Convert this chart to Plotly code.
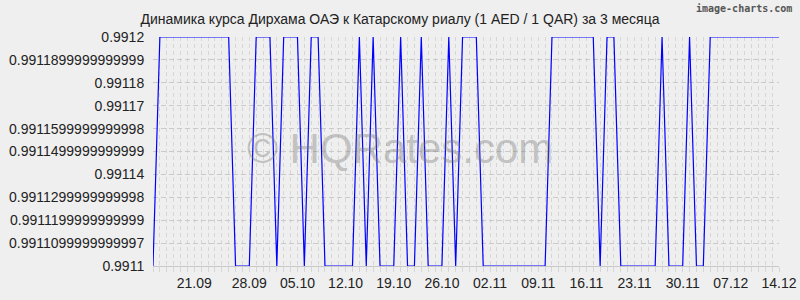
import plotly.graph_objects as go

T = 0.9912
B = 0.9911

# daily AED/QAR rates (index positions along the x axis)
rates = [
    B, T, T, T, T, T, T, T, T, T,
    T, T, B, B, B, T, T, T, B, T,
    T, T, B, T, T, B, B, B, B, B,
    T, B, T, B, B, B, T, B, B, T,
    B, B, B, T, B, T, T, T, B, B,
    B, B, B, B, B, B, B, B, T, T,
    T, T, T, T, T, B, T, T, B, B,
    B, B, B, B, T, B, B, B, T, B,
    B, T, T, T, T, T, T, T, T, T,
    T, T,
]
x_idx = list(range(len(rates)))

x_tick_pos = [6, 14, 21, 28, 35, 42, 49, 56, 63, 70, 77, 84, 91]
x_tick_labels = ["21.09", "28.09", "05.10", "12.10", "19.10", "26.10", "02.11",
                 "09.11", "16.11", "23.11", "30.11", "07.12", "14.12"]

y_tick_vals = [0.9912, 0.99119, 0.99118, 0.99117, 0.99116, 0.99115,
               0.99114, 0.99113, 0.99112, 0.99111, 0.9911]
y_tick_labels = ["0.9912", "0.9911899999999999", "0.99118", "0.99117",
                 "0.9911599999999998", "0.9911499999999999", "0.99114",
                 "0.9911299999999998", "0.9911199999999999", "0.9911099999999997",
                 "0.9911"]

title = "Динамика курса Дирхама ОАЭ к Катарскому риалу (1 AED / 1 QAR) за 3 месяца"

FONT = "Liberation Sans, Arial, sans-serif"
BG = "#efefef"

ML, MR, MT, MB = 153, 21, 37, 34
PW, PH = 800 - ML - MR, 300 - MT - MB

fig = go.Figure()
fig.add_trace(go.Scatter(
    x=x_idx, y=rates, mode="lines",
    line=dict(color="#0000ff", width=1.2),
    cliponaxis=False, hoverinfo="skip",
))

fig.update_layout(
    width=800, height=300,
    margin=dict(l=ML, r=MR, t=MT, b=MB, autoexpand=False),
    paper_bgcolor=BG, plot_bgcolor=BG,
    showlegend=False,
    font=dict(family=FONT, size=14, color="#222222"),
    title=dict(text=title, x=0.5, xanchor="center", y=1 - 19 / 300, yanchor="middle",
               font=dict(family=FONT, size=14, color="#222222")),
    xaxis=dict(
        range=[0, 91], tickmode="array", tickvals=x_tick_pos, ticktext=x_tick_labels,
        automargin=False,
        showgrid=False, zeroline=False,
        ticks="outside", ticklen=4, tickcolor="rgba(0,0,0,0)",
        showline=True, linecolor="#c8c8c8", linewidth=1,
        tickfont=dict(family=FONT, size=14, color="#222222"),
        minor=dict(tickmode="linear", tick0=0, dtick=1, showgrid=True,
                   gridcolor="#d6d6d6", griddash="4px,3px", gridwidth=1,
                   ticks="outside", ticklen=5, tickcolor="#d6d6d6"),
    ),
    yaxis=dict(
        range=[0.9911, 0.9912], tickmode="array", tickvals=y_tick_vals, ticktext=y_tick_labels,
        automargin=False,
        showgrid=True, gridcolor="#cacaca", griddash="5px,3px", gridwidth=1,
        zeroline=False, ticks="outside", ticklen=5, tickcolor="rgba(0,0,0,0)",
        tickfont=dict(family=FONT, size=14, color="#222222"),
    ),
    annotations=[
        dict(text="© HQRates.com", x=(400 - ML) / PW, y=(300 - MB - 148) / PH,
             xref="paper", yref="paper",
             xanchor="center", yanchor="middle", showarrow=False,
             font=dict(family=FONT, size=42, color="rgba(120,120,120,0.4)")),
        dict(text="<b>image-charts.com</b>", x=(794 - ML) / PW, y=(300 - MB - 8) / PH,
             xref="paper", yref="paper",
             showarrow=False, font=dict(family="DejaVu Sans Mono", size=10, color="#555555"),
             xanchor="right", yanchor="middle"),
    ],
)

fig.write_html("out.html")
